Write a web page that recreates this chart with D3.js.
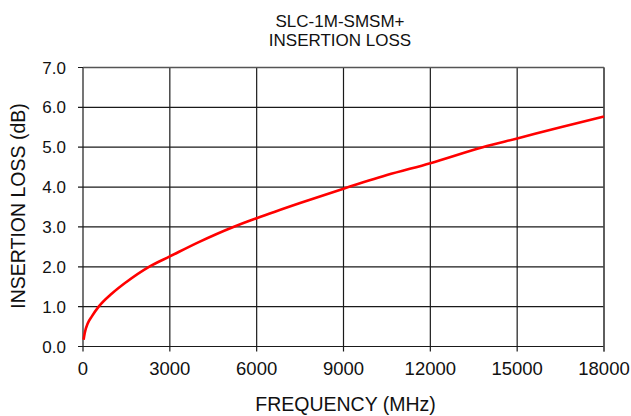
<!DOCTYPE html>
<html>
<head>
<meta charset="utf-8">
<script src="https://cdn.jsdelivr.net/npm/d3@7"></script>
<style>
  body { margin: 0; background: #fff; }
  svg text { font-family: "Liberation Sans", Arial, sans-serif; fill: #111; }
</style>
</head>
<body>
<svg id="chart" width="631" height="416"></svg>
<script>
const svg = d3.select("svg#chart");

// values
const freq = [20, 60, 170, 300, 542, 1000, 1500, 2280, 3000, 4000, 5194, 6000, 7500, 9000, 10500, 12000, 13810, 15000, 16500, 18000];
const loss = [0.17, 0.34, 0.59, 0.75, 1.0, 1.33, 1.62, 2.0, 2.26, 2.62, 3.0, 3.22, 3.6, 3.96, 4.3, 4.6, 5.0, 5.22, 5.5, 5.77];
const xTicks = [0, 3000, 6000, 9000, 12000, 15000, 18000];
const yTicks = [0, 1, 2, 3, 4, 5, 6, 7];
const titleLines = ["SLC-1M-SMSM+", "INSERTION LOSS"];

const plotL = 83, plotR = 604, plotT = 67.5, plotB = 346.5;

const x = d3.scaleLinear().domain([0, 18000]).range([plotL, plotR]);
const y = d3.scaleLinear().domain([0, 7]).range([plotB, plotT]);

// grid
svg.append("g")
  .selectAll("line")
  .data(xTicks)
  .enter().append("line")
    .attr("x1", d => x(d)).attr("x2", d => x(d))
    .attr("y1", plotT).attr("y2", plotB + 5)
    .attr("stroke", "#1a1a1a")
    .attr("stroke-width", 1.2);

svg.append("g")
  .selectAll("line")
  .data(yTicks)
  .enter().append("line")
    .attr("x1", plotL - 5).attr("x2", plotR)
    .attr("y1", d => y(d)).attr("y2", d => y(d))
    .attr("stroke", "#1a1a1a")
    .attr("stroke-width", 1.2);

// frame: top and right a bit lighter
svg.append("line")
  .attr("x1", plotL).attr("x2", plotR).attr("y1", plotT).attr("y2", plotT)
  .attr("stroke", "#555").attr("stroke-width", 1.4);
svg.append("line")
  .attr("x1", plotR).attr("x2", plotR).attr("y1", plotT).attr("y2", plotB + 5)
  .attr("stroke", "#555").attr("stroke-width", 1.4);

// tick labels
svg.append("g")
  .selectAll("text")
  .data(xTicks)
  .enter().append("text")
    .attr("x", d => x(d))
    .attr("y", 374.5)
    .attr("text-anchor", "middle")
    .attr("font-size", "18.5px")
    .text(d => d);

svg.append("g")
  .selectAll("text")
  .data(yTicks)
  .enter().append("text")
    .attr("x", 66)
    .attr("y", d => y(d) + 6)
    .attr("text-anchor", "end")
    .attr("font-size", "17px")
    .text(d => d.toFixed(1));

// curve
const line = d3.line()
  .x(d => x(d[0]))
  .y(d => y(d[1]))
  .curve(d3.curveMonotoneX);

svg.append("path")
  .datum(freq.map((f, i) => [f, loss[i]]))
  .attr("d", line)
  .attr("fill", "none")
  .attr("stroke", "#ff0000")
  .attr("stroke-width", 2.6);

// titles
svg.append("g")
  .selectAll("text")
  .data(titleLines)
  .enter().append("text")
    .attr("x", 340)
    .attr("y", (d, i) => 26.5 + i * 19.5)
    .attr("text-anchor", "middle")
    .attr("font-size", "17px")
    .text(d => d);

svg.append("text")
  .attr("x", 345.5)
  .attr("y", 411)
  .attr("text-anchor", "middle")
  .attr("font-size", "19.5px")
  .text("FREQUENCY (MHz)");

svg.append("text")
  .attr("transform", "translate(24.5,206) rotate(-90)")
  .attr("text-anchor", "middle")
  .attr("font-size", "19.5px")
  .text("INSERTION LOSS (dB)");
</script>
</body>
</html>
